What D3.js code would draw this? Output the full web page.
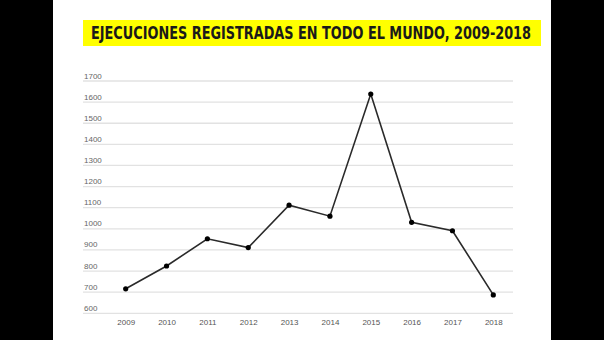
<!DOCTYPE html>
<html><head><meta charset="utf-8">
<script src="https://cdn.jsdelivr.net/npm/d3@7"></script>
<style>html,body{margin:0;padding:0;background:#fff;}svg{display:block;}</style>
</head><body>
<svg id="c" width="604" height="340"></svg>
<script>
const titleText = "EJECUCIONES REGISTRADAS EN TODO EL MUNDO, 2009-2018";
const years = ["2009","2010","2011","2012","2013","2014","2015","2016","2017","2018"];
const executions = [716, 824, 953, 911, 1112, 1060, 1638, 1031, 991, 687];
const yTicks = [600,700,800,900,1000,1100,1200,1300,1400,1500,1600,1700];

const svg = d3.select("#c");
svg.append("rect").attr("x",0).attr("y",0).attr("width",604).attr("height",340).attr("fill","#fff");
svg.append("rect").attr("x",0).attr("y",0).attr("width",53).attr("height",340).attr("fill","#000");
svg.append("rect").attr("x",551).attr("y",0).attr("width",53).attr("height",340).attr("fill","#000");

// title
svg.append("rect").attr("x",83).attr("y",20).attr("width",458).attr("height",26).attr("fill","#ffff00");
const tg = svg.append("g");
const tt = tg.append("text").attr("x",0).attr("y",0)
  .attr("font-family","'DejaVu Sans',sans-serif")
  .attr("font-weight","bold").attr("font-size",17.4).attr("fill","#1a1a1a")
  .text(titleText);
const w = tt.node().getComputedTextLength();
const sx = 440 / w;
tg.attr("transform",`translate(91,39.4) scale(${sx},1)`);

const x = d3.scalePoint().domain(years).range([125.7, 493.3]);
const y = d3.scaleLinear().domain([600,1700]).range([313.3, 81]);

// grid
const g = svg.append("g");
g.selectAll("line.grid").data(yTicks).join("line")
  .attr("x1",83).attr("x2",513).attr("y1",d=>y(d)).attr("y2",d=>y(d))
  .attr("stroke","#e2e2e2").attr("stroke-width",1.3);
g.selectAll("text.yl").data(yTicks).join("text")
  .attr("x",84).attr("y",d=>y(d)-2.5)
  .attr("font-family","'Liberation Sans',Arial,sans-serif").attr("font-size",8)
  .attr("fill","#666").text(d=>d);

// x labels
const xAxis = d3.axisBottom(x).tickSize(0).tickPadding(0);
const xa = svg.append("g").attr("transform","translate(0,324.6)").call(xAxis);
xa.select(".domain").remove();
xa.selectAll("text").attr("font-family","'Liberation Sans',Arial,sans-serif").attr("font-size",8).attr("fill","#555").attr("dy",0);

// line
const line = d3.line().x((d,i)=>x(years[i])).y(d=>y(d));
svg.append("path").datum(executions).attr("d",line).attr("fill","none").attr("stroke","#2a2a2a").attr("stroke-width",1.6);
svg.selectAll("circle.pt").data(executions).join("circle")
  .attr("cx",(d,i)=>x(years[i])).attr("cy",d=>y(d)).attr("r",2.6).attr("fill","#000");
</script>
</body></html>
